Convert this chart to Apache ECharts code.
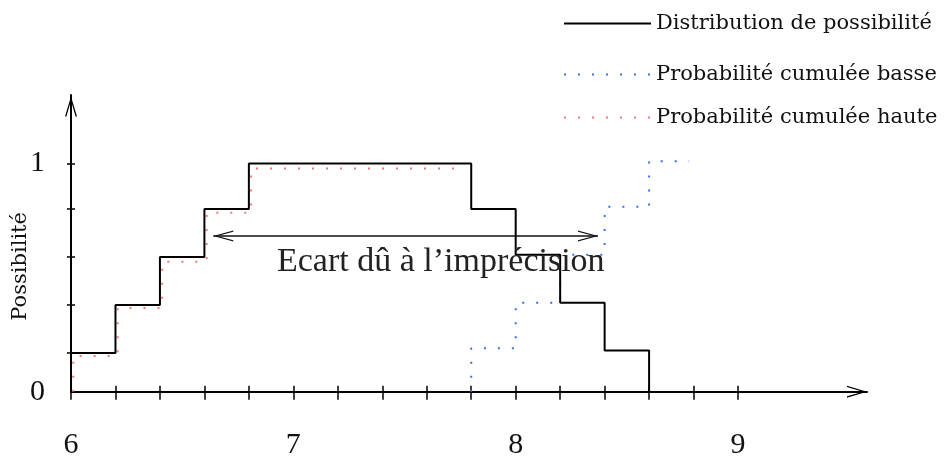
<!DOCTYPE html>
<html><head><meta charset="utf-8">
<script src="https://cdn.jsdelivr.net/npm/echarts@6/dist/echarts.min.js"></script>
<style>html,body{margin:0;padding:0;background:#fff}#c{width:946px;height:457px}</style>
</head><body><div id="c"></div>
<script>
const seriesNames = ['Distribution de possibilité', 'Probabilité cumulée basse', 'Probabilité cumulée haute'];
const possX = [6, 6, 6.2, 6.4, 6.6, 6.8, 7.8, 8.0, 8.2, 8.4, 8.6];
const possY = [0, 0.17, 0.38, 0.59, 0.8, 1.0, 0.8, 0.6, 0.39, 0.18, 0];
const lowX = [7.8, 7.8, 8.0, 8.2, 8.4, 8.6, 8.78];
const lowY = [0, 0.19, 0.39, 0.6, 0.81, 1.01, 1.01];
const highX = [6.01, 6.01, 6.21, 6.41, 6.61, 6.81, 7.76];
const highY = [0, 0.156, 0.367, 0.569, 0.784, 0.978, 0.978];
const xTickValues = [6, 6.2, 6.4, 6.6, 6.8, 7, 7.2, 7.4, 7.6, 7.8, 8, 8.2, 8.4, 8.6, 8.8, 9];
const xLabelValues = [6, 7, 8, 9];
const yTickValues = [0.17, 0.38, 0.59, 0.8, 1];
const yLabelValues = [0, 1];
const arrowX = [6.64, 8.37];
const arrowY = 0.682;
const annotation = 'Ecart dû à l’imprécision';
const yName = 'Possibilité';

const zip = (xs, ys) => xs.map((x, i) => [x, ys[i]]);
const chev = 'path://M0,20 L6,0 L12,20 L10.6,20 L6,4.2 L1.4,20 Z';
const serif = '"Liberation Serif", "Times New Roman", serif';
const lserif = '"DejaVu Serif", serif';

const chart = echarts.init(document.getElementById('c'), null, {renderer: 'canvas'});
const baseX = {type: 'value', min: 6, max: 9.58, gridIndex: 0, position: 'bottom', splitLine: {show: false}};
const baseY = {type: 'value', min: 0, max: 1.3, gridIndex: 0, position: 'left', splitLine: {show: false}};
chart.setOption({
  animation: false,
  backgroundColor: '#fff',
  grid: {left: 71, right: 79, top: 95, bottom: 65.3, containLabel: false, outerBoundsMode: 'none'},
  legend: [0, 1, 2].map((i) => ({
    data: [seriesNames[i]],
    left: 563,
    top: [13, 64, 107][i],
    padding: 0,
    itemWidth: 87,
    itemHeight: 14,
    selectedMode: false,
    itemStyle: {opacity: 0},
    textStyle: {fontFamily: lserif, fontSize: 21, color: '#111'}
  })),
  xAxis: [
    Object.assign({}, baseX, {
      axisLine: {show: true, symbol: ['none', chev], symbolSize: [12, 20], symbolOffset: [0, -10],
        lineStyle: {color: '#000', width: 2}},
      axisTick: {show: true, inside: false, length: 8, customValues: xTickValues, lineStyle: {color: '#000', width: 1.5}},
      axisLabel: {show: true, customValues: xLabelValues, margin: 38, fontFamily: serif, fontSize: 30, color: '#111',
        formatter: (v) => String(Math.round(v))}
    }),
    Object.assign({}, baseX, {
      axisLine: {show: false},
      axisTick: {show: true, inside: true, length: 6, customValues: xTickValues, lineStyle: {color: '#000', width: 1.5}},
      axisLabel: {show: false}
    })
  ],
  yAxis: [
    Object.assign({}, baseY, {
      name: yName, nameLocation: 'middle', nameGap: 40, nameRotate: 90, nameMoveOverlap: false,
      nameTextStyle: {fontFamily: lserif, fontSize: 21, color: '#111', padding: [0, 46, 0, 0]},
      axisLine: {show: true, symbol: ['none', chev], symbolSize: [12, 23], symbolOffset: [0, -11.5],
        lineStyle: {color: '#000', width: 2}},
      axisTick: {show: true, inside: false, length: 4, customValues: yTickValues, lineStyle: {color: '#000', width: 1.5}},
      axisLabel: {show: true, customValues: yLabelValues, margin: 26, fontFamily: serif, fontSize: 30, color: '#111',
        formatter: (v) => String(Math.round(v))}
    }),
    Object.assign({}, baseY, {
      axisLine: {show: false},
      axisTick: {show: true, inside: true, length: 4, customValues: yTickValues, lineStyle: {color: '#000', width: 1.5}},
      axisLabel: {show: false}
    })
  ],
  series: [
    {
      name: seriesNames[0], type: 'line', step: 'end', symbol: 'none', xAxisIndex: 0, yAxisIndex: 0,
      data: zip(possX, possY), z: 3,
      lineStyle: {color: '#000', width: 2},
      itemStyle: {color: '#000'},
      markLine: {
        silent: true, symbol: [chev, chev], symbolSize: [11, 20], symbolOffset: [[0, 10], [0, 10]],
        label: {show: false},
        lineStyle: {color: '#111', width: 1.6, type: 'solid'},
        data: [[{coord: [arrowX[0], arrowY]}, {coord: [arrowX[1], arrowY]}]]
      }
    },
    {
      name: seriesNames[1], type: 'line', step: 'end', symbol: 'none', xAxisIndex: 0, yAxisIndex: 0,
      data: zip(lowX, lowY), z: 2,
      lineStyle: {color: '#3d6fe0', width: 2, type: [2, 12]},
      itemStyle: {color: '#3d6fe0'}
    },
    {
      name: seriesNames[2], type: 'line', step: 'end', symbol: 'none', xAxisIndex: 0, yAxisIndex: 0,
      data: zip(highX, highY), z: 2,
      lineStyle: {color: '#ec7a7a', width: 2, type: [2, 12]},
      itemStyle: {color: '#ec7a7a'}
    }
  ],
  graphic: [{
    type: 'text', x: 277, y: 262, z: 10,
    style: {text: annotation, font: '34px "Liberation Serif"', fill: '#222', verticalAlign: 'middle'}
  }]
});
</script></body></html>
